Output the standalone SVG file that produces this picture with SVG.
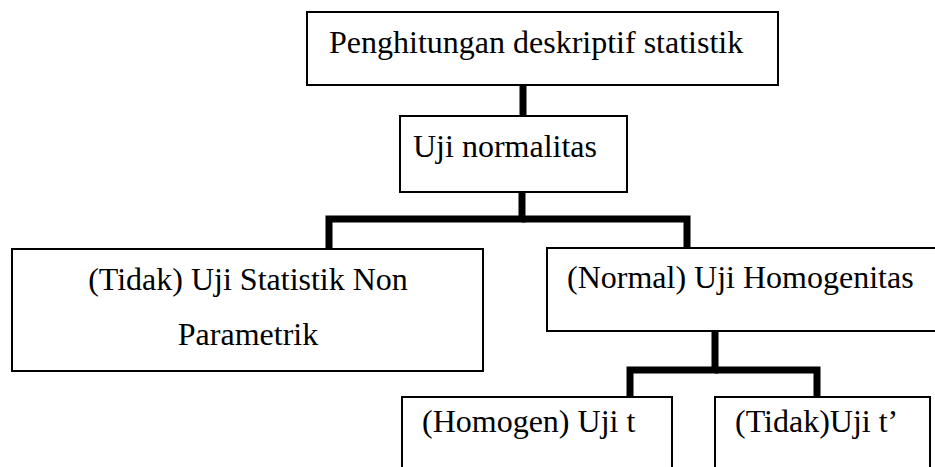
<svg xmlns="http://www.w3.org/2000/svg" width="935" height="467" viewBox="0 0 935 467">
<style>
.box{fill:#fff;stroke:#000;stroke-width:2}
.t{font-family:"Liberation Serif","Times New Roman",serif;font-size:32px;fill:#000}
.c{fill:none;stroke:#000;stroke-width:7;stroke-linejoin:miter}
</style>
<rect width="935" height="467" fill="#fff"/>
<g id="connectors">
<path class="c" d="M523 85V116"/>
<path class="c" d="M522 192V219H329V249"/>
<path class="c" d="M522 219H687V248"/>
<path class="c" d="M715 331V370H630V397"/>
<path class="c" d="M715 370H817V397"/>
</g>
<g id="n1"><rect class="box" x="307" y="12" width="471" height="73"/><text class="t" x="329" y="53">Penghitungan deskriptif statistik</text></g>
<g id="n2"><rect class="box" x="400" y="116" width="227" height="76"/><text class="t" x="413" y="157">Uji normalitas</text></g>
<g id="n3"><rect class="box" x="12" y="249" width="471" height="122"/><text class="t" x="248" y="290" text-anchor="middle">(Tidak) Uji Statistik Non</text><text class="t" x="248" y="345" text-anchor="middle">Parametrik</text></g>
<g id="n4"><rect class="box" x="547" y="248" width="400" height="83"/><text class="t" x="567" y="288">(Normal) Uji Homogenitas</text></g>
<g id="n5"><rect class="box" x="402" y="397" width="270" height="80"/><text class="t" x="422" y="432">(Homogen) Uji t</text></g>
<g id="n6"><rect class="box" x="715" y="397" width="215" height="80"/><text class="t" x="735" y="432">(Tidak)Uji t’</text></g>
</svg>
